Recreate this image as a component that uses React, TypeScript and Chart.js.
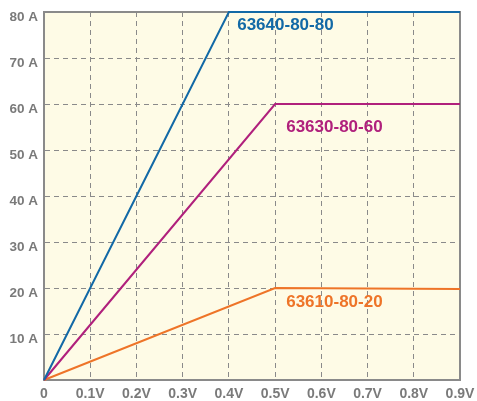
import React, { useEffect, useRef } from "react";
import { Chart, registerables } from "chart.js";

Chart.register(...registerables);

const xTicks = [0, 0.1, 0.2, 0.3, 0.4, 0.5, 0.6, 0.7, 0.8, 0.9];
const xTickLabels = ["0", "0.1V", "0.2V", "0.3V", "0.4V", "0.5V", "0.6V", "0.7V", "0.8V", "0.9V"];
const yTickLabels = ["", "10 A", "20 A", "30 A", "40 A", "50 A", "60 A", "70 A", "80 A"];

const seriesNames = ["63640-80-80", "63630-80-60", "63610-80-20"];
const seriesColors = ["#1269a6", "#b0207c", "#ee7428"];
const voltsA = [0, 0.4, 0.9];
const ampsA = [0, 80, 80];
const voltsB = [0, 0.5, 0.9];
const ampsB = [0, 60, 60];
const voltsC = [0, 0.5, 0.9];
const ampsC = [0, 20, 19.8];
// label anchor positions (data units): left x, middle y
const labelX = [0.418, 0.524, 0.524];
const labelY = [77, 55, 16.8];

const BG = "#fefbe6";
const GRID = "#8a8a8a";
const TICK = "#7a7a7a";

const toPts = (xs: number[], ys: number[]) => xs.map((x, i) => ({ x, y: ys[i] }));

export default function App() {
  const ref = useRef<HTMLCanvasElement | null>(null);
  useEffect(() => {
    if (!ref.current) return;
    const bgPlugin = {
      id: "bgPlugin",
      beforeDraw(chart: any) {
        const { ctx, chartArea: a } = chart;
        ctx.save();
        ctx.fillStyle = BG;
        ctx.fillRect(a.left, a.top, a.right - a.left, a.bottom - a.top);
        ctx.restore();
      },
      beforeDatasetsDraw(chart: any) {
        const { ctx, chartArea: a } = chart;
        ctx.save();
        ctx.strokeStyle = GRID;
        ctx.lineWidth = 2;
        ctx.strokeRect(a.left, a.top, a.right - a.left, a.bottom - a.top);
        ctx.restore();
      },
      afterDatasetsDraw(chart: any) {
        const { ctx, scales } = chart;
        ctx.save();
        ctx.font = "bold 17px 'Liberation Sans', Arial, sans-serif";
        ctx.textAlign = "left";
        ctx.textBaseline = "middle";
        seriesNames.forEach((n, i) => {
          ctx.fillStyle = seriesColors[i];
          ctx.fillText(n, scales.x.getPixelForValue(labelX[i]), scales.y.getPixelForValue(labelY[i]));
        });
        ctx.restore();
      },
    };
    const mk = (i: number, xs: number[], ys: number[]) => ({
      label: seriesNames[i],
      data: toPts(xs, ys),
      borderColor: seriesColors[i],
      backgroundColor: seriesColors[i],
      borderWidth: 2,
      pointRadius: 0,
      tension: 0,
      clip: 4,
    });
    const chart = new Chart(ref.current, {
      type: "line",
      data: {
        datasets: [mk(0, voltsA, ampsA), mk(1, voltsB, ampsB), mk(2, voltsC, ampsC)],
      },
      options: {
        animation: false,
        responsive: true,
        maintainAspectRatio: false,
        layout: { padding: { top: 12, right: 17, left: 0, bottom: 0 } },
        plugins: { legend: { display: false }, tooltip: { enabled: false } },
        scales: {
          x: {
            type: "linear",
            min: 0,
            max: 0.9,
            afterBuildTicks: (s: any) => {
              s.ticks = xTicks.map((v) => ({ value: v }));
            },
            afterFit: (s: any) => {
              s.height = 21;
              s.paddingLeft = 0;
              s.paddingRight = 0;
            },
            ticks: {
              autoSkip: false,
              maxRotation: 0,
              padding: 6,
              color: TICK,
              font: { family: "'Liberation Sans', Arial, sans-serif", size: 14, weight: "bold" },
              callback: (v: any) => {
                const idx = xTicks.findIndex((t) => Math.abs(t - Number(v)) < 1e-6);
                return idx >= 0 ? xTickLabels[idx] : "";
              },
            },
            grid: { color: GRID, lineWidth: 1, drawTicks: false },
            border: { display: true, color: GRID, width: 2, dash: [5, 4] },
          },
          y: {
            type: "linear",
            min: 0,
            max: 80,
            afterFit: (s: any) => {
              s.width = 44;
              s.paddingTop = 0;
              s.paddingBottom = 0;
            },
            ticks: {
              stepSize: 10,
              padding: 6,
              labelOffset: 5,
              color: TICK,
              font: { family: "'Liberation Sans', Arial, sans-serif", size: 13.5, weight: "bold" },
              callback: (v: any) => yTickLabels[Math.round(Number(v) / 10)] ?? "",
            },
            grid: { color: GRID, lineWidth: 1, drawTicks: false },
            border: { display: true, color: GRID, width: 2, dash: [5, 4] },
          },
        },
      } as any,
      plugins: [bgPlugin],
    });
    return () => chart.destroy();
  }, []);
  return (
    <div style={{ position: "fixed", left: 0, top: 0, width: 477, height: 401, background: "#ffffff" }}>
      <canvas ref={ref} />
    </div>
  );
}
